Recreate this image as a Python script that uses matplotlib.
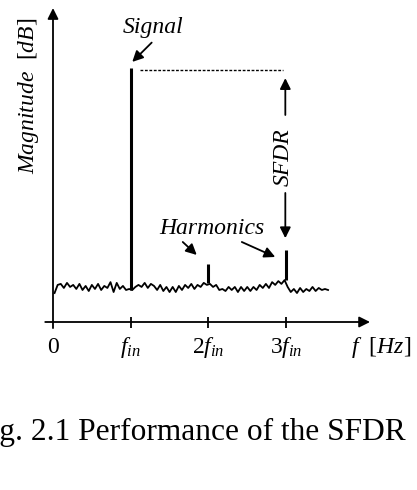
import numpy as np
import matplotlib
matplotlib.use('Agg')
import matplotlib.pyplot as plt

plt.rcParams['font.family'] = 'Liberation Serif'
plt.rcParams['mathtext.fontset'] = 'custom'
plt.rcParams['mathtext.rm'] = 'Liberation Serif'
plt.rcParams['mathtext.it'] = 'Liberation Serif:italic'

# frequency in units of f_in, magnitude in dB (relative)
noise_freq = np.linspace(0.02, 3.54, 89)
noise_db = [11.4, 14.6, 15.0, 13.4, 15.4, 13.8, 14.6, 13.0, 15.0, 12.6,
            14.2, 12.2, 14.6, 13.0, 15.0, 12.6, 14.2, 13.4, 15.7, 11.8,
            15.4, 13.0, 14.2, 12.6, 13.0, 12.6, 13.8, 14.6, 13.8, 15.4,
            13.4, 15.0, 14.2, 12.6, 14.6, 12.2, 13.8, 11.8, 13.8, 11.8,
            14.2, 12.6, 14.6, 13.4, 15.0, 13.0, 14.6, 13.8, 15.4, 14.6,
            15.0, 13.8, 14.6, 12.6, 13.0, 12.2, 13.8, 12.6, 13.8, 11.8,
            13.8, 12.2, 13.8, 12.2, 13.8, 12.6, 14.6, 13.4, 15.0, 13.4,
            15.7, 14.6, 16.1, 15.0, 16.5, 13.8, 11.8, 13.0, 11.4, 13.4,
            11.8, 13.0, 12.2, 13.8, 12.2, 13.4, 12.6, 13.0, 12.6]
assert len(noise_db) == len(noise_freq)

spike_freq = [1, 2, 3]
spike_base = [12.6, 15.4, 16.5]
spike_top = [100.0, 22.8, 28.3]

tick_pos = [0, 1, 2, 3]
tick_labels = ['0', r'$f_{in}$', r'$2f_{in}$', r'$3f_{in}$']

fig = plt.figure(figsize=(4.17, 4.90), dpi=100)
ax = fig.add_axes([0, 0, 1, 1])
ax.set_xlim(-53 / 77.7, 364 / 77.7)
ax.set_ylim(-168 / 2.54, 322 / 2.54)
ax.axis('off')

arrow = dict(arrowstyle='-|>', color='k', lw=1.3, mutation_scale=16,
             shrinkA=0, shrinkB=0)

# axes with arrow heads
ax.annotate('', xy=(0, 123.6), xytext=(0, -2.4), arrowprops=arrow)
ax.annotate('', xy=(4.08, 0), xytext=(-0.10, 0), arrowprops=arrow)
ax.vlines(tick_pos[1:], -2.4, 2.0, color='k', lw=1.3)

# noise floor and spikes
ax.plot(noise_freq, noise_db, color='k', lw=1.3)
ax.vlines(spike_freq, spike_base, spike_top, color='k', lw=2.2)

# SFDR reference line and arrows
ax.hlines(spike_top[0] - 0.8, 1.12, 2.96, color='k', lw=1.0,
          linestyles=(0, (2, 1.2)))
ax.annotate('', xy=(2.99, 96), xytext=(2.99, 81.5), arrowprops=arrow)
ax.annotate('', xy=(2.99, 33), xytext=(2.99, 50.8), arrowprops=arrow)
ax.text(2.96, 65, 'SFDR', rotation=90, style='italic', fontsize=17,
        ha='center', va='center')

# labels
ax.text(1.29, 116, 'Signal', style='italic', fontsize=17,
        ha='center', va='center')
ax.annotate('', xy=(1.02, 102.4), xytext=(1.27, 110), arrowprops=arrow)
ax.text(2.05, 37, 'Harmonics', style='italic', fontsize=17,
        ha='center', va='center')
ax.annotate('', xy=(1.85, 26.4), xytext=(1.67, 31.5), arrowprops=arrow)
ax.annotate('', xy=(2.86, 25.6), xytext=(2.43, 31.5), arrowprops=arrow)

ax.text(-0.32, 89, r'$Magnitude\ \ [dB]$', rotation=90, fontsize=17,
        ha='center', va='center')
for pos, lab in zip(tick_pos, tick_labels):
    ax.text(pos, -12.4, lab, fontsize=17, ha='center', va='baseline')
ax.text(4.22, -12.4, r'$f\ \ [Hz]$', fontsize=17, ha='center', va='baseline')

fig.text(406 / 417, 1 - 440 / 490, 'Fig. 2.1 Performance of the SFDR',
         fontsize=22.6, ha='right', va='baseline')

plt.savefig('out.png', dpi=100)
